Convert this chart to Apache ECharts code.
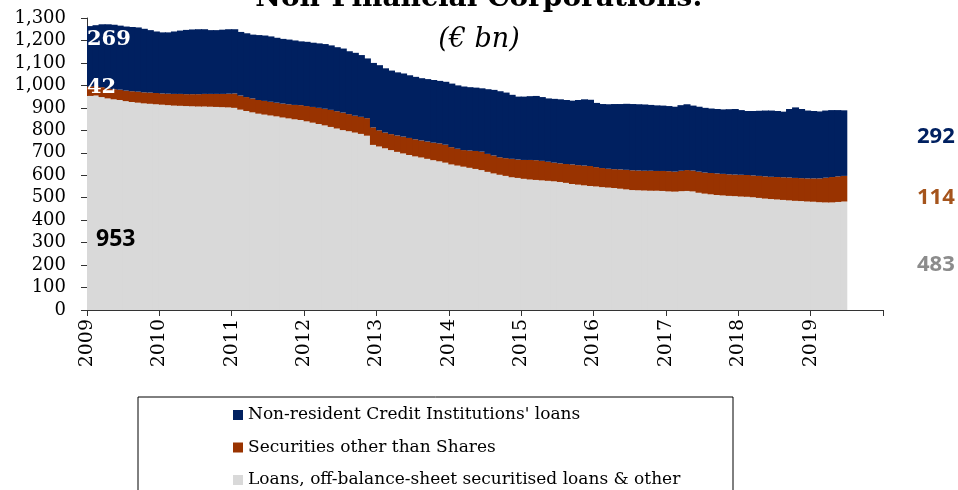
<!DOCTYPE html>
<html>
<head>
<meta charset="utf-8">
<script src="https://cdn.jsdelivr.net/npm/echarts@6/dist/echarts.min.js"></script>
<style>
  html, body { margin: 0; padding: 0; background: #fff; }
  #main { width: 958px; height: 490px; }
</style>
</head>
<body>
<div id="main"></div>
<script>
// years on the axis, monthly bars
var years = [2009, 2010, 2011, 2012, 2013, 2014, 2015, 2016, 2017, 2018, 2019];
var months = [];
years.forEach(function (y) {
    for (var m = 1; m <= 12; m++) months.push(y + '-' + (m < 10 ? '0' : '') + m);
});

var seriesNames = [
    "Loans, off-balance-sheet securitised loans & other",
    "Securities other than Shares",
    "Non-resident Credit Institutions' loans"
];

// Jan 2009 .. Jun 2019, EUR bn
var loans = [
    953, 955, 948, 942, 938, 935, 930, 926, 923, 920, 918, 916,
    914, 912, 910, 909, 908, 907, 906, 906, 905, 904, 903, 902,
    900, 892, 886, 880, 874, 870, 866, 862, 857, 853, 849, 846,
    840, 834, 828, 822, 815, 808, 801, 796, 790, 784, 776, 735,
    728, 720, 712, 704, 697, 690, 684, 679, 673, 667, 662, 656,
    648, 643, 638, 633, 628, 623, 615, 608, 602, 597, 591, 588,
    584, 581, 579, 577, 575, 573, 570, 566, 561, 558, 555, 552,
    550, 547, 545, 543, 540, 537, 534, 533, 532, 531, 531, 530,
    528, 527, 529, 530, 528, 522, 518, 515, 512, 510, 508, 507,
    505, 504, 502, 499, 496, 494, 492, 490, 488, 486, 485, 483,
    482, 480, 479, 479, 481, 483
];
var securities = [
    42, 43, 44, 44, 45, 46, 47, 48, 49, 49, 50, 50,
    50, 51, 52, 53, 53, 54, 55, 56, 57, 58, 59, 61,
    64, 63, 62, 62, 61, 61, 61, 61, 62, 63, 64, 66,
    68, 70, 72, 74, 76, 77, 78, 76, 75, 76, 78, 78,
    72, 70, 71, 73, 75, 76, 76, 76, 77, 78, 80, 80,
    77, 75, 74, 77, 80, 82, 80, 80, 78, 79, 82, 82,
    84, 87, 88, 87, 85, 83, 83, 84, 87, 87, 88, 89,
    86, 85, 84, 84, 86, 87, 88, 88, 88, 89, 88, 89,
    90, 89, 91, 93, 93, 94, 94, 95, 96, 96, 96, 96,
    97, 97, 97, 98, 99, 99, 100, 101, 102, 102, 102, 103,
    104, 106, 110, 113, 114, 114
];
var nonResident = [
    269, 270, 280, 286, 287, 285, 285, 286, 286, 283, 278, 274,
    272, 273, 278, 282, 286, 288, 289, 288, 284, 284, 286, 287,
    286, 283, 284, 284, 289, 291, 291, 289, 288, 288, 287, 284,
    286, 286, 287, 288, 287, 285, 285, 280, 280, 275, 266, 287,
    290, 286, 283, 281, 281, 279, 278, 277, 278, 279, 278, 280,
    283, 282, 283, 282, 282, 282, 288, 292, 294, 292, 285, 280,
    282, 284, 286, 284, 282, 284, 285, 285, 284, 290, 295, 295,
    286, 285, 287, 290, 291, 294, 295, 295, 295, 293, 292, 291,
    290, 289, 292, 293, 289, 289, 288, 287, 287, 287, 290, 292,
    288, 285, 287, 290, 293, 295, 294, 292, 305, 314, 308, 302,
    300, 298, 299, 298, 295, 292
];

var colors = ['#d9d9d9', '#993300', '#002060'];
var serif = 'DejaVu Serif';

var myChart = echarts.init(document.getElementById('main'));

function bar(name, data, color) {
    return {
        name: name,
        type: 'bar',
        stack: 'total',
        data: data,
        barWidth: 7,   // a bit wider than the band so no seams show
        itemStyle: { color: color },
        emphasis: { disabled: true }
    };
}

var last = loans.length - 1;

var option = {
    animation: false,
    backgroundColor: '#fff',
    title: [{
        text: 'Non-Financial Corporations:',
        left: 'center', top: -20,
        textStyle: { fontFamily: serif, fontSize: 28, fontWeight: 'bold', color: '#000' }
    }, {
        text: '(€ bn)',
        left: 'center', top: 21,
        textStyle: { fontFamily: serif, fontSize: 27, fontStyle: 'italic', fontWeight: 'normal', color: '#000' }
    }],
    grid: { left: 87, right: 75, top: 18, bottom: 180, containLabel: false },
    legend: {
        orient: 'vertical',
        left: 233, top: 405,
        padding: 0,
        itemWidth: 10, itemHeight: 10, itemGap: 12.5,
        icon: 'rect',
        data: [seriesNames[2], seriesNames[1], seriesNames[0]],
        textStyle: { fontFamily: serif, fontSize: 17, color: '#000', lineHeight: 20 }
    },
    xAxis: [{
        type: 'category',
        data: months,
        boundaryGap: true,
        axisLine: { lineStyle: { color: '#333', width: 1 } },
        axisTick: { show: false },
        axisLabel: { show: false },
        splitLine: { show: false }
    }, {
        type: 'value',
        position: 'bottom',
        min: years[0], max: years[years.length - 1] + 1, interval: 1,
        axisLine: { show: false },
        axisTick: { show: true, length: 6, lineStyle: { color: '#333' } },
        axisLabel: {
            rotate: 90, margin: 9,
            fontFamily: serif, fontSize: 19, color: '#000',
            formatter: function (v) { return years.indexOf(v) >= 0 ? String(v) : ''; }
        },
        splitLine: { show: false }
    }],
    yAxis: {
        type: 'value',
        min: 0, max: 1300, interval: 100,
        axisLine: { show: true, lineStyle: { color: '#333', width: 1 } },
        axisTick: { show: true, length: 6, lineStyle: { color: '#333' } },
        axisLabel: {
            margin: 21,
            fontFamily: serif, fontSize: 18, color: '#000',
            formatter: function (v) { return v.toLocaleString('en-US'); }
        },
        splitLine: { show: false }
    },
    series: [
        bar(seriesNames[0], loans, colors[0]),
        bar(seriesNames[1], securities, colors[1]),
        bar(seriesNames[2], nonResident, colors[2])
    ],
    graphic: [
        { type: 'rect', shape: { x: 138, y: 397, width: 595, height: 120 },
          style: { fill: 'none', stroke: '#000', lineWidth: 1 }, z: 1 },
        { type: 'text', x: 87, y: 40, z: 10,
          style: { text: String(nonResident[0]), fill: '#fff', font: 'bold 21px "DejaVu Serif"', verticalAlign: 'middle' } },
        { type: 'text', x: 87, y: 88, z: 10,
          style: { text: String(securities[0]), fill: '#fff', font: 'bold 21px "DejaVu Serif"', verticalAlign: 'middle' } },
        { type: 'text', x: 96, y: 239, z: 10,
          style: { text: String(loans[0]), fill: '#000', font: 'bold 23px "Open Sans"', verticalAlign: 'middle' } },
        { type: 'text', x: 917, y: 137, z: 10,
          style: { text: String(nonResident[last]), fill: '#002060', font: 'bold 22px "Open Sans"', verticalAlign: 'middle' } },
        { type: 'text', x: 917, y: 198, z: 10,
          style: { text: String(securities[last]), fill: '#a5541c', font: 'bold 22px "Open Sans"', verticalAlign: 'middle' } },
        { type: 'text', x: 917, y: 265, z: 10,
          style: { text: String(loans[last]), fill: '#8c8c8c', font: 'bold 22px "Open Sans"', verticalAlign: 'middle' } }
    ]
};
myChart.setOption(option);
</script>
</body>
</html>
